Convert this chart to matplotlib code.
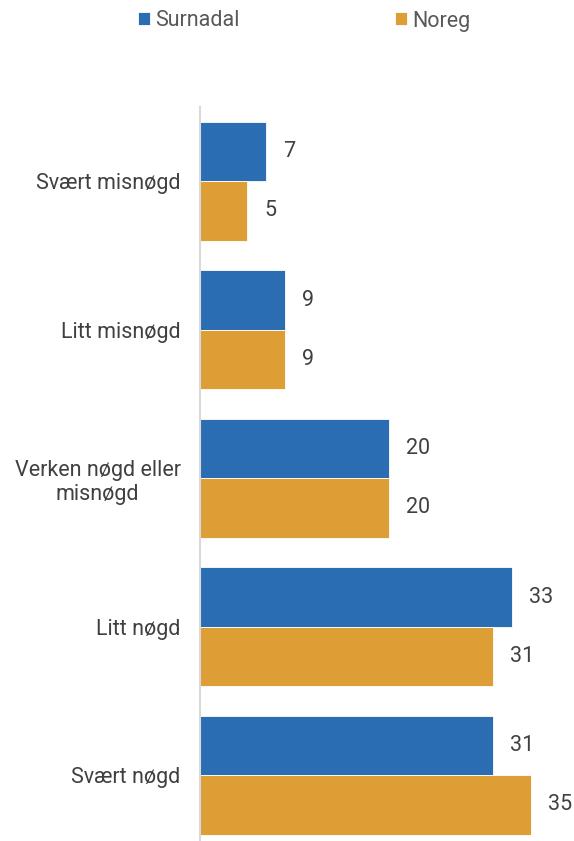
import matplotlib.pyplot as plt
import numpy as np

plt.rcParams['font.family'] = ['Roboto', 'DejaVu Sans']

categories = ["Svært misnøgd", "Litt misnøgd", "Verken nøgd eller\nmisnøgd", "Litt nøgd", "Svært nøgd"]
surnadal = [7, 9, 20, 33, 31]
noreg = [5, 9, 20, 31, 35]
series_names = ["Surnadal", "Noreg"]

blue = "#2B6DB3"
orange = "#DE9E36"

fig = plt.figure(figsize=(5.74, 8.41), dpi=100)
ax = fig.add_axes([200 / 574, -8.5 / 841, 1 - 200 / 574, 742.5 / 841])

y = np.arange(len(categories))
h = 0.4
b1 = ax.barh(y - h / 2, surnadal, height=h, color=blue, edgecolor="white", linewidth=0.6, label=series_names[0])
b2 = ax.barh(y + h / 2, noreg, height=h, color=orange, edgecolor="white", linewidth=0.6, label=series_names[1])

for bars, vals in ((b1, surnadal), (b2, noreg)):
    for bar, v in zip(bars, vals):
        ax.text(bar.get_width() + 1.8, bar.get_y() + bar.get_height() / 2, str(v),
                va="center", ha="left", fontsize=15.5, color="#404040")

ax.set_xlim(0, 374 / 9.45)
ax.set_ylim(len(categories) - 0.5, -0.5)
ax.set_yticks(y)
ax.set_yticklabels(categories, fontsize=15.5, color="#404040", multialignment="center")
ax.tick_params(axis="y", length=0, pad=14)
ax.set_xticks([])
for s in ("top", "right", "bottom"):
    ax.spines[s].set_visible(False)
ax.spines["left"].set_color("#D9D9D9")
ax.spines["left"].set_linewidth(1.5)

fig.legend(handles=[b1, b2], loc="center", bbox_to_anchor=(304 / 574, 1 - 21 / 841), ncol=2,
           frameon=False, fontsize=15.5, handlelength=0.55, handleheight=0.55, handletextpad=0.25,
           columnspacing=7.2, labelcolor="#595959")

fig.savefig("out.png", dpi=100)
